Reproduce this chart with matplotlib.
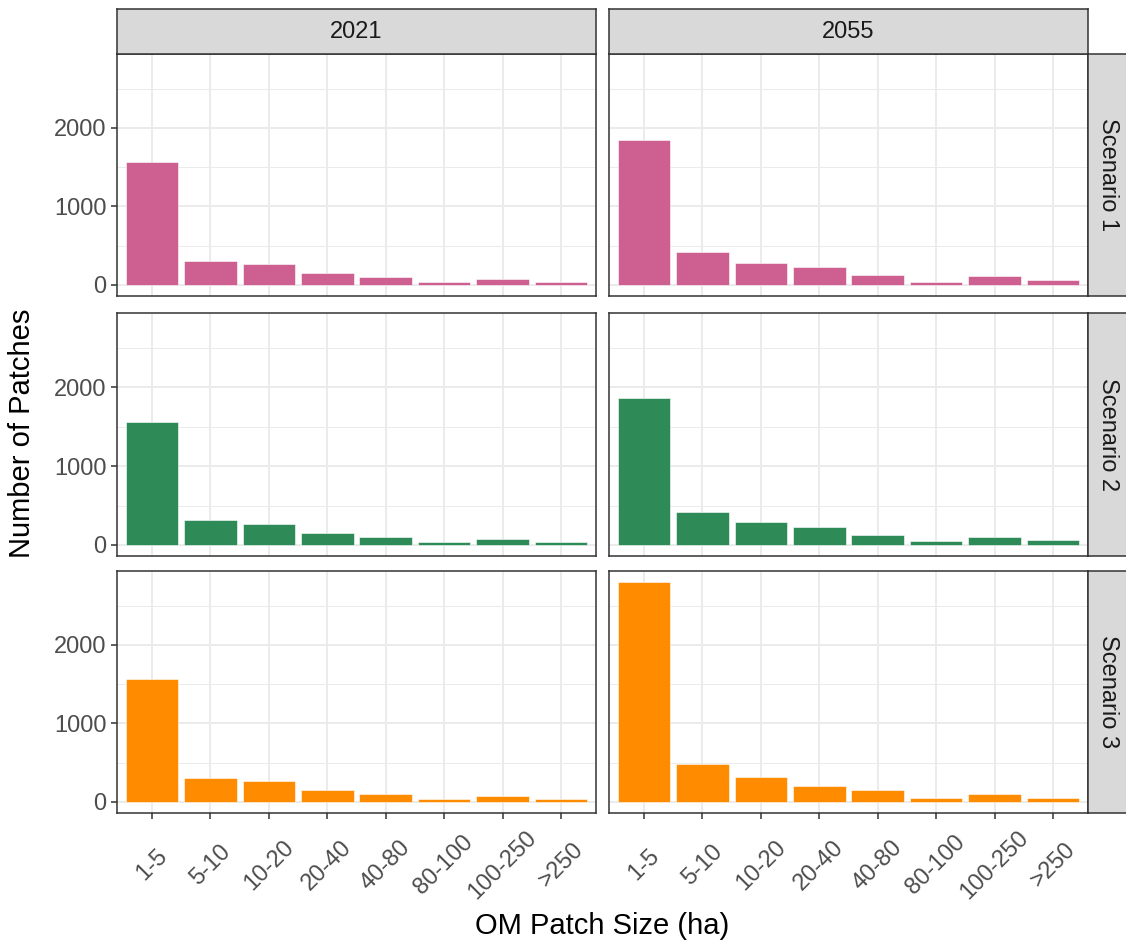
import matplotlib
matplotlib.use("Agg")
import matplotlib.pyplot as plt
import numpy as np

plt.rcParams['font.family'] = ['Liberation Sans', 'DejaVu Sans']

sizes = ["1-5", "5-10", "10-20", "20-40", "40-80", "80-100", "100-250", ">250"]
years = ["2021", "2055"]
scenarios = ["Scenario 1", "Scenario 2", "Scenario 3"]
colors = ["#CD6090", "#2E8B57", "#FF8C00"]

# patch counts per size class
s1_2021 = [1562, 310, 267, 150, 99, 42, 73, 34]
s1_2055 = [1849, 423, 285, 226, 126, 40, 113, 63]
s2_2021 = [1562, 310, 267, 150, 99, 42, 73, 34]
s2_2055 = [1861, 412, 290, 223, 126, 50, 101, 63]
s3_2021 = [1562, 310, 267, 150, 99, 42, 73, 34]
s3_2055 = [2800, 490, 323, 210, 151, 46, 96, 46]

counts = [[s1_2021, s1_2055], [s2_2021, s2_2055], [s3_2021, s3_2055]]

W, H = 1126, 941
fig = plt.figure(figsize=(W / 100, H / 100), dpi=100)

col_x = [117, 609]
col_w = 479
row_y = [(54, 296), (313, 556), (571, 813)]
border = "#333333"
grid_c = "#EBEBEB"

ymax = max(max(v) for row in counts for v in row)
ylo, yhi = -0.05 * ymax, 1.05 * ymax
x = np.arange(len(sizes))

for r, (top, bot) in enumerate(row_y):
    for c in range(2):
        ax = fig.add_axes([col_x[c] / W, 1 - bot / H, col_w / W, (bot - top) / H])
        ax.set_axisbelow(True)
        for yv in [500, 1500, 2500]:
            ax.axhline(yv, color=grid_c, lw=0.7, zorder=0)
        for yv in [0, 1000, 2000]:
            ax.axhline(yv, color=grid_c, lw=1.4, zorder=0)
        for xv in x:
            ax.axvline(xv, color=grid_c, lw=1.4, zorder=0)
        ax.bar(x, counts[r][c], width=0.9, color=colors[r], edgecolor="white",
               linewidth=0.4, zorder=2)
        ax.set_xlim(-0.6, len(sizes) - 0.4)
        ax.set_ylim(ylo, yhi)
        ax.set_yticks([0, 1000, 2000])
        ax.set_xticks(x)
        for sp in ax.spines.values():
            sp.set_color(border)
            sp.set_linewidth(1.1)
        ax.tick_params(colors=border, length=4.5, width=1.1, labelcolor="#4D4D4D",
                       labelsize=17, pad=3)
        if c == 0:
            ax.set_yticklabels(["0", "1000", "2000"])
        else:
            ax.tick_params(axis="y", length=0, labelleft=False)
        if r == 2:
            ax.set_xticklabels(sizes, rotation=45, ha="center", va="center",
                               rotation_mode="anchor")
            ax.tick_params(axis="x", pad=33)
        else:
            ax.tick_params(axis="x", length=0, labelbottom=False)

        # top strips
        if r == 0:
            sx = fig.add_axes([col_x[c] / W, 1 - top / H, col_w / W, 45 / H])
            sx.set_facecolor("#D9D9D9")
            sx.set_xticks([]); sx.set_yticks([])
            for sp in sx.spines.values():
                sp.set_color(border); sp.set_linewidth(1.1)
            sx.text(0.5, 0.5, years[c], ha="center", va="center", fontsize=17,
                    color="#1A1A1A", transform=sx.transAxes)
        # right strips
        if c == 1:
            sy = fig.add_axes([(col_x[1] + col_w) / W, 1 - bot / H, 45 / W, (bot - top) / H])
            sy.set_facecolor("#D9D9D9")
            sy.set_xticks([]); sy.set_yticks([])
            for sp in sy.spines.values():
                sp.set_color(border); sp.set_linewidth(1.1)
            sy.text(0.44, 0.5, scenarios[r], ha="center", va="center", fontsize=17,
                    color="#1A1A1A", rotation=-90, transform=sy.transAxes)

fig.text((col_x[0] + col_x[1] + col_w) / 2 / W, 1 - 926 / H, "OM Patch Size (ha)",
         ha="center", va="center", fontsize=21, color="black")
fig.text(22 / W, 1 - 433 / H, "Number of Patches", ha="center", va="center",
         rotation=90, fontsize=21, color="black")

fig.savefig("out.png", dpi=100, facecolor="white")
